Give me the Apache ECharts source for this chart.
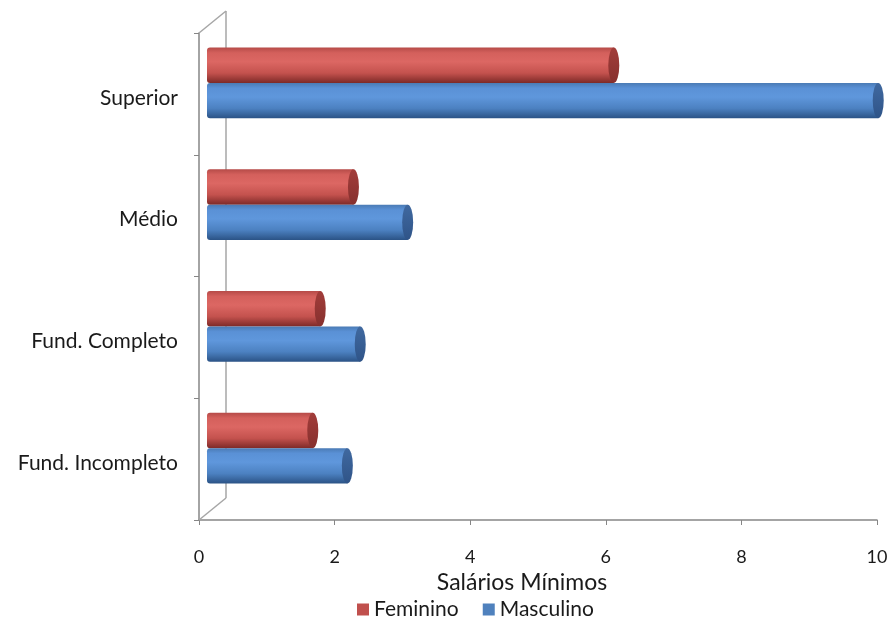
<!DOCTYPE html>
<html><head><meta charset="utf-8">
<script src="https://cdn.jsdelivr.net/npm/echarts@6/dist/echarts.min.js"></script>
<style>html,body{margin:0;padding:0;background:#fff}#c{width:891px;height:618px}</style>
</head><body><div id="c"></div>
<script>
const categories = ['Fund. Incompleto', 'Fund. Completo', 'Médio', 'Superior'];
const feminino = [1.56, 1.67, 2.16, 6.0];
const masculino = [2.07, 2.26, 2.96, 9.9];
const xTicks = [0, 2, 4, 6, 8, 10];
const seriesNames = ['Feminino', 'Masculino'];

const FONT = 'Lato';
const GL = 199, GT = 33, GR = 14, GB = 98;
const DEPTH = [8, -11];      // bar plane offset (3D)
const WALL = [27, -22];      // back wall offset (3D)

const palettes = [
  { base: '#C0504D', body: ['#b64b48', '#d4605c', '#dc6763', '#c4524e', '#7e2a28'], cap: ['#a23d3a', '#86302e'] },
  { base: '#4F81BD', body: ['#4a7ab4', '#5a91d6', '#5f97dc', '#4c81c1', '#2b5386'], cap: ['#4069a0', '#2f5488'] }
];

function grad(cols) {
  const st = [0, 0.15, 0.4, 0.72, 1];
  return new echarts.graphic.LinearGradient(0, 0, 0, 1, cols.map((c, i) => ({ offset: st[i], color: c })));
}

function makeRender(si) {
  const pal = palettes[si];
  return function (params, api) {
    const cat = api.value(0), val = api.value(1);
    const p0 = api.coord([0, cat]);
    const p1 = api.coord([val, cat]);
    const band = api.size([0, 1])[1];
    const h = band * 0.29;
    const cy = p0[1] + DEPTH[1];
    const y = si === 0 ? cy - h : cy;
    const x0 = p0[0] + DEPTH[0], x1 = p1[0] + DEPTH[0];
    const r = h / 2, rx = 5.5;
    return {
      type: 'group',
      children: [
        { type: 'rect', shape: { x: x0, y: y, width: x1 - x0, height: h, r: [3, 0, 0, 3] }, style: { fill: grad(pal.body) } },
        { type: 'circle', x: x1, y: y + r, scaleX: rx / r, shape: { cx: 0, cy: 0, r: r },
          style: { fill: new echarts.graphic.LinearGradient(0, 0, 0, 1, [{ offset: 0, color: pal.cap[0] }, { offset: 1, color: pal.cap[1] }]) } }
      ]
    };
  };
}

const chart = echarts.init(document.getElementById('c'));
const W = 891, H = 618;
const gx0 = GL, gy0 = GT, gy1 = H - GB;
const wallLine = { stroke: '#a6a6a6', lineWidth: 1.5 };

chart.setOption({
  animation: false,
  grid: { left: GL, right: GR, top: GT, bottom: GB },
  legend: {
    left: 352, top: 594, itemWidth: 12, itemHeight: 12, icon: 'rect', itemGap: 24,
    textStyle: { fontFamily: FONT, fontSize: 21, color: '#1a1a1a' },
    data: seriesNames
  },
  xAxis: {
    type: 'value', min: xTicks[0], max: xTicks[xTicks.length - 1], interval: 2,
    name: 'Salários Mínimos', nameLocation: 'middle', nameGap: 51,
    nameTextStyle: { fontFamily: FONT, fontSize: 23, color: '#1a1a1a', padding: [0, 32, 0, 0] },
    axisLine: { show: true, lineStyle: { color: '#868686', width: 1.5 } },
    axisTick: { show: true, length: 5, lineStyle: { color: '#868686' } },
    splitLine: { show: false },
    axisLabel: { fontFamily: FONT, fontSize: 18, color: '#1a1a1a', margin: 28 }
  },
  yAxis: {
    type: 'category', data: categories,
    axisLine: { show: true, lineStyle: { color: '#868686', width: 1.5 } },
    axisTick: { show: true, length: 5, lineStyle: { color: '#868686' } },
    axisLabel: { fontFamily: FONT, fontSize: 21, color: '#1a1a1a', margin: 21, verticalAlign: 'top', lineHeight: 8 }
  },
  graphic: [
    { type: 'line', shape: { x1: gx0 + WALL[0], y1: gy0 + WALL[1], x2: gx0 + WALL[0], y2: gy1 + WALL[1] }, style: wallLine, z: 1 },
    { type: 'line', shape: { x1: gx0, y1: gy0, x2: gx0 + WALL[0], y2: gy0 + WALL[1] }, style: wallLine, z: 1 },
    { type: 'line', shape: { x1: gx0, y1: gy1, x2: gx0 + WALL[0], y2: gy1 + WALL[1] }, style: wallLine, z: 1 }
  ],
  series: [feminino, masculino].map((arr, si) => ({
    name: seriesNames[si], type: 'custom', renderItem: makeRender(si),
    itemStyle: { color: palettes[si].base },
    encode: { x: 1, y: 0 }, z: 5,
    data: arr.map((v, i) => [i, v])
  }))
});
</script></body></html>
